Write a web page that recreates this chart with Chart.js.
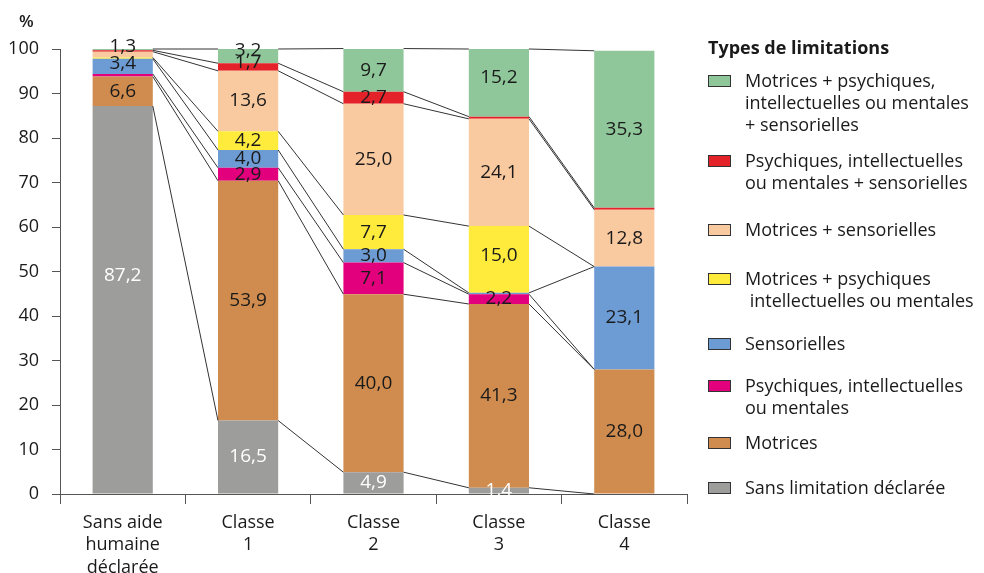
<!DOCTYPE html>
<html>
<head>
<meta charset="utf-8">
<script src="https://cdn.jsdelivr.net/npm/chart.js@4.4.0/dist/chart.umd.min.js"></script>
<style>
  html, body { margin: 0; padding: 0; background: #fff; }
  #wrap { position: relative; width: 984px; height: 573px; font-family: 'Open Sans', sans-serif; color: #1a1a1a; }
  #chart { position: absolute; left: 0; top: 0; }
  #unit { position: absolute; left: 19px; top: 9px; font-size: 17px; font-weight: 600; }
  #legend-title { position: absolute; left: 708px; top: 35px; font-size: 18px; font-weight: 700; }
  .item { position: absolute; left: 708px; font-size: 18px; line-height: 22px; }
  .item .box { position: absolute; left: 0; top: 6px; width: 21px; height: 10px; border: 1px solid #333; }
  .item .txt { position: absolute; left: 37px; top: 0; white-space: pre; }
</style>
</head>
<body>
<div id="wrap">
  <canvas id="chart" width="984" height="573"></canvas>
  <div id="unit">%</div>
  <div id="legend-title">Types de limitations</div>
  <div id="legend"></div>
</div>
<script>
// Categories (x axis)
const categories = [
    ['Sans aide', 'humaine', 'déclarée'],
    ['Classe', '1'],
    ['Classe', '2'],
    ['Classe', '3'],
    ['Classe', '4']
]

// Series, bottom of the stack first
const seriesNames = [
    'Sans limitation déclarée',
    'Motrices',
    'Psychiques, intellectuelles\nou mentales',
    'Sensorielles',
    'Motrices + psychiques\n intellectuelles ou mentales',
    'Motrices + sensorielles',
    'Psychiques, intellectuelles\nou mentales + sensorielles',
    'Motrices + psychiques,\nintellectuelles ou mentales\n+ sensorielles'
]

const sansLimitation = [87.2, 16.5, 4.9, 1.4, 0]
const motrices       = [6.6, 53.9, 40.0, 41.3, 28.0]
const psychiques     = [0.6, 2.9, 7.1, 2.2, 0]
const sensorielles   = [3.4, 4.0, 3.0, 0.3, 23.1]
const motPsy         = [0.3, 4.2, 7.7, 15.0, 0]
const motSens        = [1.3, 13.6, 25.0, 24.1, 12.8]
const psySens        = [0.3, 1.7, 2.7, 0.5, 0.4]
const motPsySens     = [0.3, 3.2, 9.7, 15.2, 35.3]

const yTicks = [0, 10, 20, 30, 40, 50, 60, 70, 80, 90, 100]

const colors = ['#9d9d9c', '#d08c4e', '#e3007d', '#6d9bd3', '#feeb3c', '#f9c9a0', '#e32329', '#8fc79a']
const seriesValues = [sansLimitation, motrices, psychiques, sensorielles, motPsy, motSens, psySens, motPsySens]

// Legend on the right, top entry first
const legendTops = [69, 149, 218, 267, 332, 374, 431, 476]
const legendEl = document.getElementById('legend')
for (let k = seriesNames.length - 1; k >= 0; k--) {
    const item = document.createElement('div')
    item.className = 'item'
    item.style.top = legendTops[seriesNames.length - 1 - k] + 'px'
    item.innerHTML = '<div class="box" style="background:' + colors[k] + '"></div><div class="txt"></div>'
    item.querySelector('.txt').textContent = seriesNames[k]
    legendEl.appendChild(item)
}

// Nudge a few value labels off the bar centre, as in the original
const labelNudge = {
    '0-0': -24, '5-0': -8, '3-0': -3, '7-1': -6, '6-1': -4, '7-3': -5, '4-3': -4
}

// Lines joining the stack boundaries from one bar to the next
const joinLines = {
    id: 'joinLines',
    afterDatasetsDraw(chart) {
        const ctx = chart.ctx
        ctx.save()
        ctx.strokeStyle = '#333'
        ctx.lineWidth = 1
        chart.data.datasets.forEach((ds, d) => {
            const bars = chart.getDatasetMeta(d).data
            for (let i = 0; i < bars.length - 1; i++) {
                const a = bars[i], b = bars[i + 1]
                ctx.beginPath()
                ctx.moveTo(a.x + a.width / 2, a.y)
                ctx.lineTo(b.x - b.width / 2, b.y)
                ctx.stroke()
            }
        })
        ctx.restore()
    }
}

const valueLabels = {
    id: 'valueLabels',
    afterDatasetsDraw(chart) {
        const ctx = chart.ctx
        ctx.save()
        ctx.font = '19px "Open Sans"'
        ctx.textAlign = 'center'
        ctx.textBaseline = 'middle'
        chart.data.datasets.forEach((ds, d) => {
            chart.getDatasetMeta(d).data.forEach((bar, i) => {
                const v = ds.data[i]
                if (v < 1) return
                const y = (bar.y + bar.base) / 2 + (labelNudge[d + '-' + i] || 0)
                ctx.fillStyle = d === 0 ? '#fff' : '#1a1a1a'
                ctx.fillText(v.toFixed(1).replace('.', ','), bar.x, y)
            })
        })
        ctx.restore()
    }
}

new Chart(document.getElementById('chart'), {
    type: 'bar',
    data: {
        labels: categories,
        datasets: seriesValues.map((vals, k) => ({
            label: seriesNames[k],
            data: vals,
            backgroundColor: colors[k],
            borderWidth: 0,
            categoryPercentage: 1,
            barPercentage: 0.48
        }))
    },
    options: {
        responsive: false,
        animation: false,
        layout: { padding: { top: 49, right: 297, left: 0, bottom: 0 } },
        plugins: { legend: { display: false }, tooltip: { enabled: false } },
        scales: {
            x: {
                stacked: true,
                grid: { drawOnChartArea: false, tickLength: 10, color: '#555', offset: true },
                border: { color: '#555', width: 1 },
                ticks: { color: '#1a1a1a', font: { family: 'Open Sans', size: 18, lineHeight: 1.27 }, padding: 7, maxRotation: 0 },
                afterFit(scale) { scale.height = 79 }
            },
            y: {
                stacked: true,
                min: 0,
                max: 100,
                afterBuildTicks(scale) { scale.ticks = yTicks.map(v => ({ value: v })) },
                grid: { drawOnChartArea: false, tickLength: 8, color: '#555' },
                border: { color: '#555', width: 1 },
                ticks: { color: '#1a1a1a', font: { family: 'Open Sans', size: 18 }, padding: 13 },
                afterFit(scale) { scale.width = 60 }
            }
        }
    },
    plugins: [joinLines, valueLabels]
})
</script>
</body>
</html>
